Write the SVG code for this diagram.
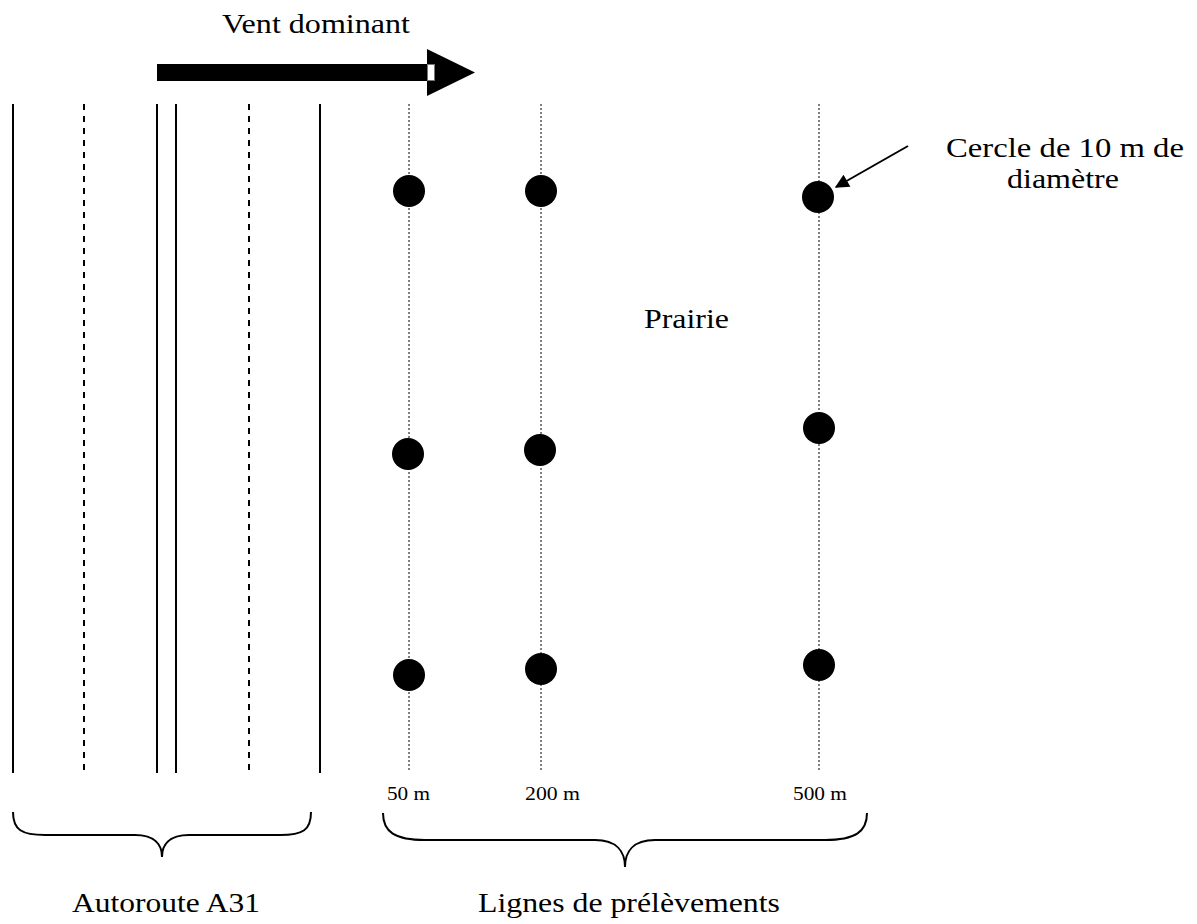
<svg xmlns="http://www.w3.org/2000/svg" width="1197" height="924" viewBox="0 0 1197 924">
<defs>
<style>
text{font-family:"Liberation Serif","Times New Roman",serif;fill:#000}
.lbl{font-size:27px}
.sm{font-size:18px}
.solid{stroke:#000;stroke-width:2;fill:none}
.dash{stroke:#000;stroke-width:2;stroke-dasharray:6 6;fill:none}
.dot{stroke:#000;stroke-width:1;stroke-dasharray:2 2;fill:none}
.brace{stroke:#000;stroke-width:2;fill:none}
</style>
<marker id="ah2" viewBox="0 0 10 10" refX="9" refY="5" markerWidth="16" markerHeight="14" markerUnits="userSpaceOnUse" orient="auto"><path d="M0,0 L10,5 L0,10 z" fill="#000"/></marker>
</defs>
<rect width="1197" height="924" fill="#fff"/>
<g id="wind">
<rect x="157" y="64" width="270" height="17" fill="#000"/>
<path d="M427,49 L475,72.5 L427,96 z" fill="#000"/>
<rect x="427.5" y="64.5" width="7" height="16" fill="#fff" stroke="#777" stroke-width="1"/>
<text class="lbl" x="222" y="33" textLength="188" lengthAdjust="spacingAndGlyphs">Vent dominant</text>
</g>
<g id="road">
<line class="solid" x1="13" y1="104" x2="13" y2="773"/>
<line class="dash" x1="84" y1="104" x2="84" y2="773"/>
<line class="solid" x1="157" y1="104" x2="157" y2="773"/>
<line class="solid" x1="176" y1="104" x2="176" y2="773"/>
<line class="dash" x1="249" y1="104" x2="249" y2="773"/>
<line class="solid" x1="320" y1="104" x2="320" y2="773"/>
</g>
<g id="lines">
<line class="dot" x1="409" y1="104" x2="409" y2="770"/>
<line class="dot" x1="541" y1="104" x2="541" y2="770"/>
<line class="dot" x1="819" y1="104" x2="819" y2="770"/>
</g>
<g id="points">
<circle cx="409" cy="191" r="16"/>
<circle cx="541" cy="191" r="16"/>
<circle cx="818" cy="197" r="16"/>
<circle cx="408" cy="454" r="16"/>
<circle cx="540" cy="450" r="16"/>
<circle cx="819" cy="428" r="16"/>
<circle cx="409" cy="675" r="16"/>
<circle cx="541" cy="669" r="16"/>
<circle cx="819" cy="665" r="16"/>
</g>
<g id="connectors">
<line x1="908" y1="146" x2="836" y2="187" stroke="#000" stroke-width="2" marker-end="url(#ah2)"/>
</g>
<g id="callout">
<text class="lbl" x="946" y="157" textLength="238" lengthAdjust="spacingAndGlyphs">Cercle de 10 m de</text>
<text class="lbl" x="1007" y="188" textLength="112" lengthAdjust="spacingAndGlyphs">diamètre</text>
</g>
<g id="prairie"><text class="lbl" x="644" y="328" textLength="85" lengthAdjust="spacingAndGlyphs">Prairie</text></g>
<g id="distances">
<text class="sm" x="387" y="800" textLength="43" lengthAdjust="spacingAndGlyphs">50 m</text>
<text class="sm" x="525" y="800" textLength="55" lengthAdjust="spacingAndGlyphs">200 m</text>
<text class="sm" x="793" y="800" textLength="54" lengthAdjust="spacingAndGlyphs">500 m</text>
</g>
<g id="brace-road">
<path class="brace" d="M13,812 C13,830 22,835 45,835 L135,835 C155,835 162,845 162,857 C162,845 169,835 189,835 L280,835 C303,835 311,830 311,812"/>
<text class="lbl" x="72" y="912" textLength="188" lengthAdjust="spacingAndGlyphs">Autoroute A31</text>
</g>
<g id="brace-lines">
<path class="brace" d="M383,813 C383,832 395,840 425,840 L595,840 C617,840 625,852 625,867 C625,852 633,840 655,840 L825,840 C855,840 867,832 867,813"/>
<text class="lbl" x="478" y="912" textLength="302" lengthAdjust="spacingAndGlyphs">Lignes de prélèvements</text>
</g>
</svg>
